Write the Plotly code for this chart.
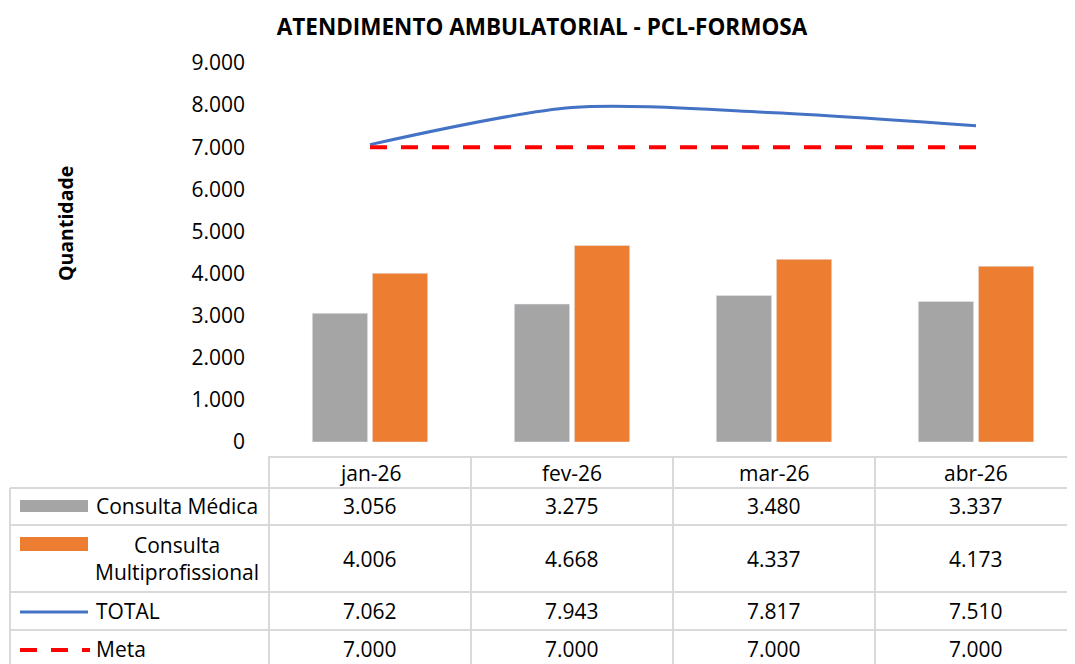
import plotly.graph_objects as go

categories = ["jan-26", "fev-26", "mar-26", "abr-26"]
consulta_medica = [3056, 3275, 3480, 3337]
consulta_multi = [4006, 4668, 4337, 4173]
total = [7062, 7943, 7817, 7510]
meta = [7000, 7000, 7000, 7000]

series_labels = ["Consulta Médica", "Consulta<br>Multiprofissional", "TOTAL", "Meta"]
series_values = [consulta_medica, consulta_multi, total, meta]

GRAY = "#A5A5A5"
ORANGE = "#ED7D31"
BLUE = "#4472C4"
RED = "#FF0000"
GRID = "#D9D9D9"
FONT = "Open Sans"
FS = 21

OFF = 8  # page body margin
W, H = 1078 - OFF, 664 - OFF
SCR_L, SCR_T, SCR_B = 268, 63, 442
ML = SCR_L - OFF
MT = SCR_T - OFF
MB = (H + OFF) - SCR_B
MR = 0
PW = W - ML - MR
PH = H - MT - MB


def px_x(p):
    return (p - SCR_L) / PW


def px_y(p):
    return (SCR_B - p) / PH


def fmt(v):
    return f"{v:,}".replace(",", ".")


fig = go.Figure()
fig.add_trace(go.Bar(x=categories, y=consulta_medica, marker_color=GRAY, name="Consulta Médica"))
fig.add_trace(go.Bar(x=categories, y=consulta_multi, marker_color=ORANGE, name="Consulta Multiprofissional"))
fig.add_trace(go.Scatter(x=categories, y=total, mode="lines", line=dict(color=BLUE, width=3, shape="spline", smoothing=0.8), name="TOTAL"))
fig.add_trace(go.Scatter(x=categories, y=meta, mode="lines", line=dict(color=RED, width=4, dash="17px,14px"), name="Meta"))

shapes = []
annotations = []

row_edges = [457, 488, 525, 592, 630, 670]
row_centers = [(row_edges[i] + row_edges[i + 1]) / 2 for i in range(len(row_edges) - 1)]
row_centers[-1] = 649
left_px = 10
line = dict(color=GRID, width=2)

shapes.append(dict(type="line", xref="paper", yref="paper", x0=0, x1=1, y0=px_y(row_edges[0]), y1=px_y(row_edges[0]), line=line))
for e in row_edges[1:]:
    shapes.append(dict(type="line", xref="paper", yref="paper", x0=px_x(left_px), x1=1, y0=px_y(e), y1=px_y(e), line=line))
shapes.append(dict(type="line", xref="paper", yref="paper", x0=px_x(left_px), x1=px_x(left_px), y0=px_y(row_edges[1]), y1=px_y(row_edges[-1]), line=line))
for i in range(len(categories) + 1):
    shapes.append(dict(type="line", xref="x", yref="paper", x0=i - 0.5, x1=i - 0.5, y0=px_y(row_edges[0]), y1=px_y(row_edges[-1]), line=line))

txtfont = dict(size=FS, color="#000000", family=FONT)
for c in categories:
    annotations.append(dict(x=c, y=px_y(row_centers[0]), xref="x", yref="paper", text=c, showarrow=False,
                            xanchor="center", yanchor="middle", font=txtfont))

for r, vals in enumerate(series_values):
    for c, v in zip(categories, vals):
        annotations.append(dict(x=c, y=px_y(row_centers[r + 1]), xref="x", yref="paper", text=fmt(v), showarrow=False,
                                xanchor="center", yanchor="middle", font=txtfont))

for r, lab in enumerate(series_labels):
    if r == 1:
        annotations.append(dict(x=px_x(177), y=px_y(row_centers[r + 1]), xref="paper", yref="paper", text=lab, showarrow=False,
                                xanchor="center", yanchor="middle", align="center", font=txtfont))
    else:
        annotations.append(dict(x=px_x(94), y=px_y(row_centers[r + 1]), xref="paper", yref="paper", text=lab, showarrow=False,
                                xanchor="left", yanchor="middle", font=txtfont))

shapes.append(dict(type="rect", xref="paper", yref="paper", x0=px_x(20), x1=px_x(88), y0=px_y(500), y1=px_y(512), fillcolor=GRAY, line=dict(width=0)))
shapes.append(dict(type="rect", xref="paper", yref="paper", x0=px_x(20), x1=px_x(88), y0=px_y(537), y1=px_y(551), fillcolor=ORANGE, line=dict(width=0)))
shapes.append(dict(type="line", xref="paper", yref="paper", x0=px_x(20), x1=px_x(88), y0=px_y(612), y1=px_y(612), line=dict(color=BLUE, width=3)))
shapes.append(dict(type="line", xref="paper", yref="paper", x0=px_x(20), x1=px_x(90), y0=px_y(650), y1=px_y(650), line=dict(color=RED, width=4, dash="17px,14px")))

annotations.append(dict(x=px_x(65), y=px_y(224), xref="paper", yref="paper", text="<b>Quantidade</b>", textangle=-90, showarrow=False,
                        xanchor="center", yanchor="middle", font=dict(size=19.5, color="#000000", family=FONT)))

fig.update_layout(
    width=W, height=H,
    margin=dict(l=ML, r=MR, t=MT, b=MB, autoexpand=False),
    paper_bgcolor="white", plot_bgcolor="white",
    separators=",.",
    barmode="group", bargap=0.405, bargroupgap=0.08,
    showlegend=False,
    title=dict(text="<b>ATENDIMENTO AMBULATORIAL - PCL-FORMOSA</b>", x=(542 - OFF) / W, xanchor="center",
               y=1 - (27 - OFF) / H, yanchor="middle", font=dict(size=22.5, color="#000000", family=FONT)),
    font=dict(family=FONT, color="#000000"),
    shapes=shapes,
    annotations=annotations,
)
fig.update_xaxes(showticklabels=False, showline=False, showgrid=False, zeroline=False, ticks="")
fig.update_yaxes(range=[0, 9000], dtick=1000, tickformat=",.0f", showgrid=False, zeroline=False, showline=False,
                 tickfont=dict(size=FS, color="#000000", family=FONT), ticklabelstandoff=22)

fig.write_html("out.html")
